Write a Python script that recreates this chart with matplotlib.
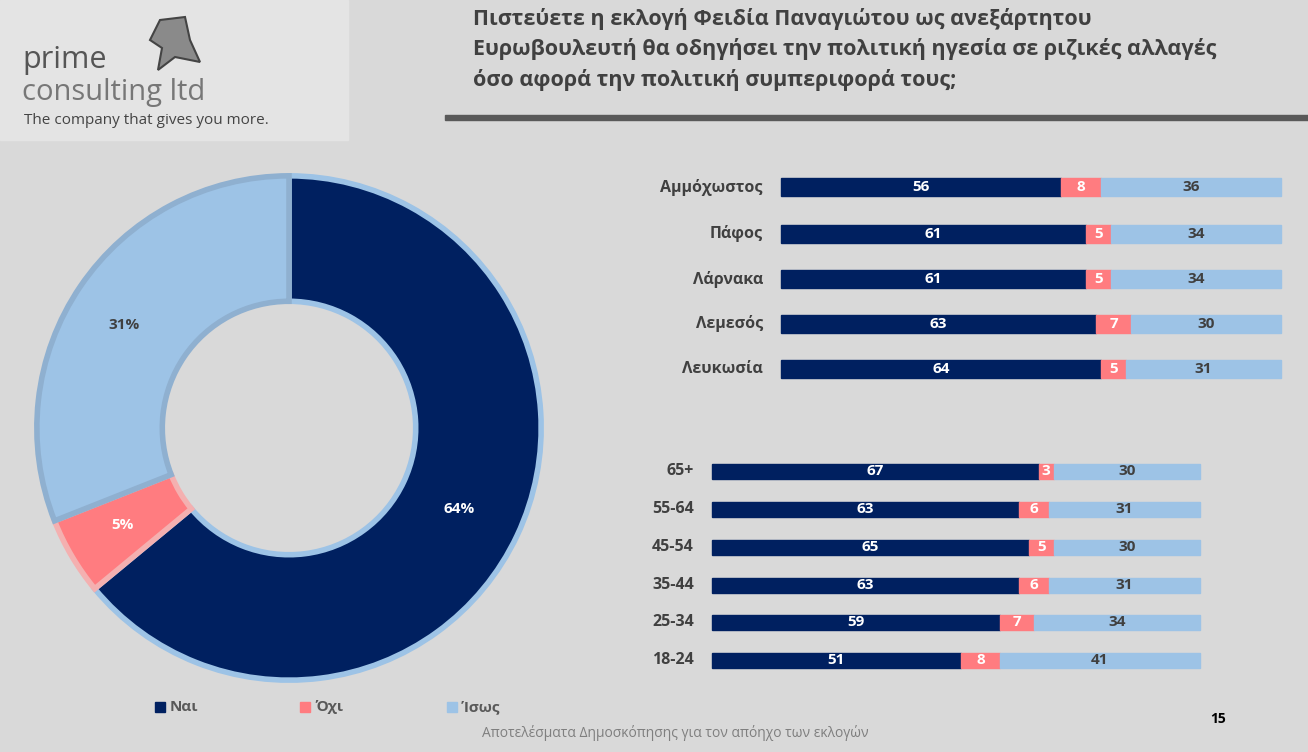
import matplotlib.pyplot as plt
from matplotlib.patches import Rectangle, Polygon

W, H = 1308, 752
pie_labels = ['Ναι', 'Όχι', 'Ίσως']
pie_values = [64, 5, 31]
colors = ['#002060', '#ff7c80', '#9dc3e6']

regions = ['Αμμόχωστος', 'Πάφος', 'Λάρνακα', 'Λεμεσός', 'Λευκωσία']
reg_yes = [56, 61, 61, 63, 64]
reg_no = [8, 5, 5, 7, 5]
reg_maybe = [36, 34, 34, 30, 31]

ages = ['65+', '55-64', '45-54', '35-44', '25-34', '18-24']
age_yes = [67, 63, 65, 63, 59, 51]
age_no = [3, 6, 5, 6, 7, 8]
age_maybe = [30, 31, 30, 31, 34, 41]

plt.rcParams['font.family'] = ['Open Sans', 'DejaVu Sans']
fig = plt.figure(figsize=(W/100, H/100), dpi=100, facecolor='#d9d9d9')

def ax_px(x0, y0, w, h, **kw):
    return fig.add_axes([x0/W, 1-(y0+h)/H, w/W, h/H], **kw)

bg = ax_px(0, 0, W, H); bg.set_xlim(0, W); bg.set_ylim(H, 0); bg.axis('off')

R = 256
pa = ax_px(289-R, 428-R, 2*R, 2*R)
wedges, _ = pa.pie(pie_values, colors=colors, startangle=90, counterclock=False, radius=0.985,
                   wedgeprops=dict(width=0.49, edgecolor='#8fb0d0', linewidth=4))
wedges[0].set_edgecolor('#9dc3e6')
wedges[1].set_edgecolor('#f4b0b0')
wedges[2].set_edgecolor('#8fb0d0')
pa.set_xlim(-1, 1); pa.set_ylim(-1, 1); pa.set_aspect('equal')

ov = ax_px(0, 0, W, H); ov.set_xlim(0, W); ov.set_ylim(H, 0); ov.axis('off'); ov.patch.set_alpha(0)

bg.add_patch(Rectangle((0, 0), 348, 140, color='#e4e4e4'))
bg.add_patch(Polygon([(150, 40), (160, 20), (185, 17), (190, 40), (200, 62), (175, 57), (158, 70), (162, 48)],
                     closed=True, fc='#8a8a8a', ec='#444444', lw=1.5))
bg.text(22, 68, 'prime', fontsize=22, color='#555555', va='baseline')
bg.text(22, 100, 'consulting ltd', fontsize=21, color='#777777', va='baseline')
bg.text(24, 124, 'The company that gives you more.', fontsize=11, color='#444444', va='baseline')
bg.text(473, 8, 'Πιστεύετε η εκλογή Φειδία Παναγιώτου ως ανεξάρτητου\nΕυρωβουλευτή θα οδηγήσει την πολιτική ηγεσία σε ριζικές αλλαγές\nόσο αφορά την πολιτική συμπεριφορά τους;',
        fontsize=15.5, fontweight='bold', color='#404040', va='top', linespacing=1.5)
bg.add_patch(Rectangle((445, 115), W-445, 5, color='#595959'))
bg.text(675, 733, 'Αποτελέσματα Δημοσκόπησης για τον απόηχο των εκλογών', fontsize=10, color='#7f7f7f', ha='center', va='center')
bg.text(1218, 719, '15', fontsize=10, fontweight='bold', color='#000000', ha='center', va='center')
for x, lab, c in zip([160, 305, 452], pie_labels, colors):
    bg.add_patch(Rectangle((x-5, 702), 10, 10, color=c))
    bg.text(x+10, 707, lab, fontsize=11, fontweight='bold', color='#595959', va='center')

for (px, py), v, c in zip([(459, 509), (122, 525), (124, 325)], pie_values, ['white', 'white', '#404040']):
    ov.text(px, py, f'{v}%', fontsize=11, fontweight='bold', color=c, ha='center', va='center')

def bars(x0, x1, ys, h, cats, yes, no, may, fs):
    scale = (x1-x0)/100
    for y, cat, a, b, c in zip(ys, cats, yes, no, may):
        segs = [(a, colors[0], 'white'), (b, colors[1], 'white'), (c, colors[2], '#404040')]
        left = x0
        for v, col, tc in segs:
            bg.add_patch(Rectangle((left, y-h/2), v*scale, h, color=col))
            bg.text(left+v*scale/2, y, str(v), fontsize=fs, fontweight='bold', color=tc, ha='center', va='center')
            left += v*scale
        bg.text(x0-18, y, cat, fontsize=11.5, fontweight='bold', color='#404040', ha='right', va='center')

bars(781, 1281, [187, 234, 279, 324, 369], 18, regions, reg_yes, reg_no, reg_maybe, 11)
bars(712, 1200, [471, 509, 547, 585, 622, 660], 15, ages, age_yes, age_no, age_maybe, 11)

fig.savefig('out.png', dpi=100, facecolor=fig.get_facecolor())
